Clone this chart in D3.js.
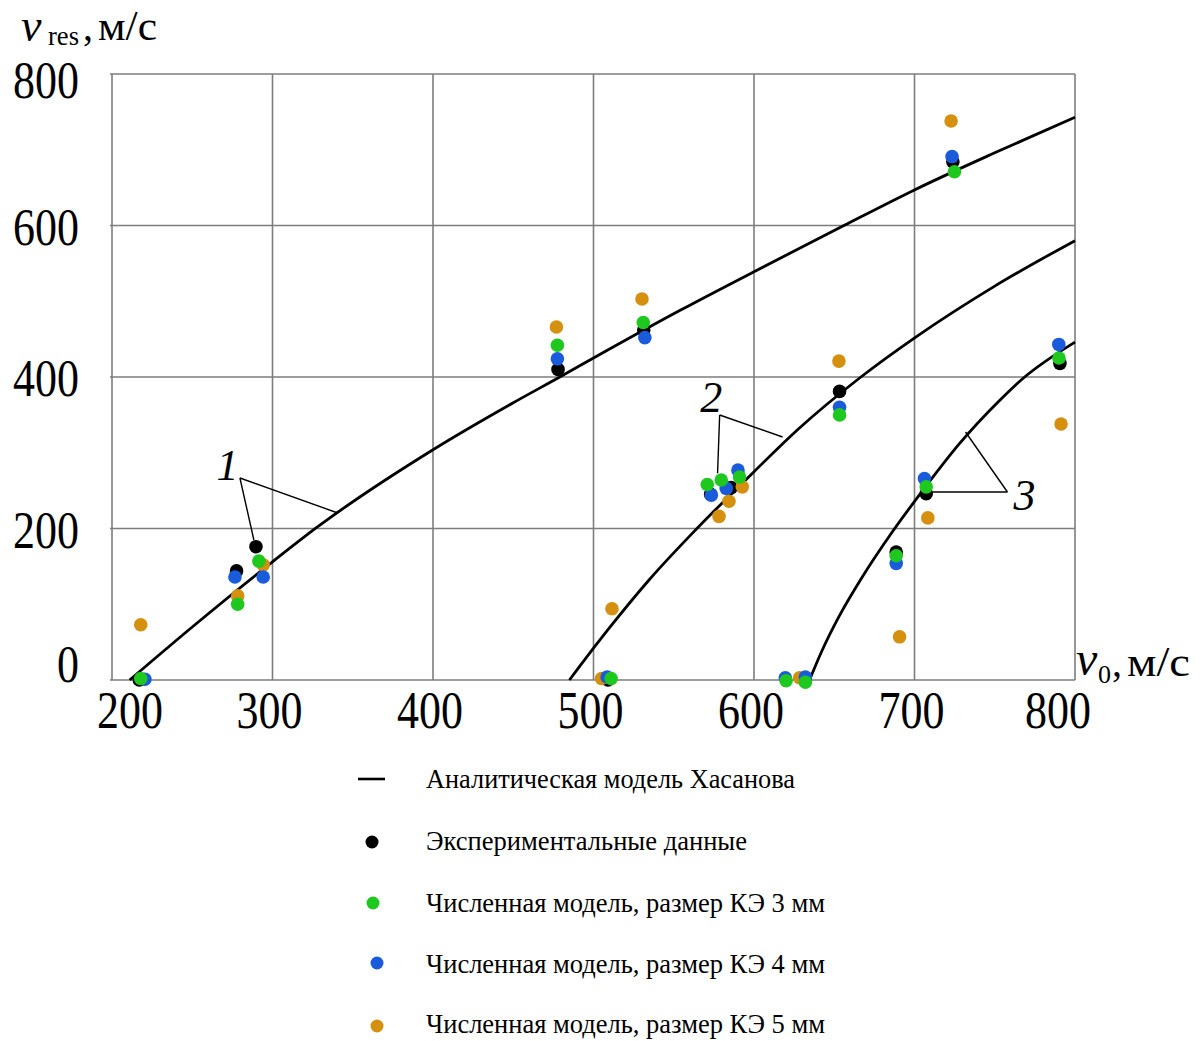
<!DOCTYPE html>
<html>
<head>
<meta charset="utf-8">
<script src="https://cdn.jsdelivr.net/npm/d3@7/dist/d3.min.js"></script>
<style>
  html, body { margin: 0; padding: 0; background: #fff; }
  svg { display: block; }
  text { font-family: "Liberation Serif", "Times New Roman", serif; fill: #000; }
</style>
</head>
<body>
<svg id="chart" width="1202" height="1041"></svg>
<script>
// ---------- data ----------
const xTicks = [200, 300, 400, 500, 600, 700, 800];
const yTicks = [0, 200, 400, 600, 800];

// analytical model curves: [v0, vres]
const curve1 = [[211,0],[250,70],[300,156],[328,202],[400,304],[450,366],[479,400],[500,425],[554,488],[600,539],[656,600],[700,647],[750,696],[800,743]];
const curve2 = [[485,0],[491,17],[510,69],[535,133],[564,199],[600,275],[628,332],[666,399],[701,453],[750,520],[800,580]];
const curve3 = [[634.6,0],[642,37],[653,84],[666,131],[686,195],[704,247],[728,312],[753,369],[767,397],[800,446]];

// experimental data: [v0, vres]
const expData = [[217,0],[277.6,144],[289.7,176],[477.9,410],[531.3,462],[509,0],[573,245],[585.8,254],[632,0],[653.3,381],[688.6,169],[707.3,246],[723.9,684],[790.6,418]];
// numerical model, element size 5 mm
const fe5 = [[217.9,73],[278.3,111],[294.2,152],[476.9,466],[530.2,503],[511.5,94],[505,2],[578.2,216],[584.4,236],[592.7,255],[628.4,3],[652.9,421],[690.7,57],[708.3,214],[722.8,738],[791.3,338]];
// numerical model, element size 4 mm
const fe4 = [[220.5,1],[276.6,136],[294.2,136],[477.5,424],[532,452],[508.5,4],[573.4,244],[582.7,253],[590,277],[619.5,3],[632,4],[653.3,360],[688.6,154],[706.2,266],[723.4,691],[789.9,443]];
// numerical model, element size 3 mm
const fe3 = [[217.9,2],[278.3,100],[291.5,157],[477.5,442],[531,472],[511,2],[570.9,258],[579.6,264],[591,268],[620,-1],[632,-3],[653.3,350],[688.6,164],[707.3,255],[724.9,671],[790,425]];

// curve labels and leader lines (data coordinates)
const curveLabels = [
  { text: "1", v0: 272, vres: 264 },
  { text: "2", v0: 573.3, vres: 354 },
  { text: "3", v0: 768.5, vres: 224 }
];
const leaders = [
  [[279.7,266.7],[288.4,184.8]],
  [[279.7,266.7],[340.7,220.5]],
  [[578.6,349.8],[577.3,273]],
  [[578.6,349.8],[617.8,320.8]],
  [[757.9,248.2],[707.5,248.2]],
  [[757.9,248.2],[731.8,327.4]]
];

const legendLabels = [
  "Аналитическая модель Хасанова",
  "Экспериментальные данные",
  "Численная модель, размер КЭ 3 мм",
  "Численная модель, размер КЭ 4 мм",
  "Численная модель, размер КЭ 5 мм"
];

// ---------- drawing ----------
const svg = d3.select("#chart");
svg.append("rect").attr("width", 1202).attr("height", 1041).attr("fill", "#fff");

const x = d3.scaleLinear().domain([200, 800]).range([112, 1075]);
const y = d3.scaleLinear().domain([0, 800]).range([680, 74]);

const gridColor = "#7d7d7d";
const g = svg.append("g");

// vertical gridlines
g.selectAll("line.vx").data(xTicks).join("line")
  .attr("x1", d => x(d)).attr("x2", d => x(d))
  .attr("y1", y(800)).attr("y2", y(0))
  .attr("stroke", gridColor).attr("stroke-width", 1.6);
// horizontal gridlines
g.selectAll("line.hy").data(yTicks).join("line")
  .attr("x1", x(200) - 2).attr("x2", x(800))
  .attr("y1", d => y(d)).attr("y2", d => y(d))
  .attr("stroke", gridColor).attr("stroke-width", 1.6);

// tick labels
g.selectAll("text.xt").data(xTicks).join("text")
  .attr("x", d => Math.min(Math.max(x(d) - 3, 130), 1058))
  .attr("y", 728)
  .attr("text-anchor", "middle")
  .attr("font-size", 52)
  .attr("textLength", d => String(d).length * 22)
  .attr("lengthAdjust", "spacingAndGlyphs")
  .text(d => d);

g.selectAll("text.yt").data(yTicks).join("text")
  .attr("x", 79)
  .attr("y", d => y(d) + (d === 0 ? 2 : d === 800 ? 24 : 19))
  .attr("text-anchor", "end")
  .attr("font-size", 52)
  .attr("textLength", d => String(d).length * 22)
  .attr("lengthAdjust", "spacingAndGlyphs")
  .text(d => d);

// axis titles
const yt = svg.append("g");
yt.append("text").attr("x", 21).attr("y", 41).attr("font-size", 46).attr("font-style", "italic").text("v");
yt.append("text").attr("x", 48).attr("y", 45).attr("font-size", 27).attr("textLength", 31).attr("lengthAdjust", "spacingAndGlyphs").text("res");
yt.append("text").attr("x", 83).attr("y", 40).attr("font-size", 40).text(",");
yt.append("text").attr("x", 98).attr("y", 40).attr("font-size", 42).attr("textLength", 59).attr("lengthAdjust", "spacingAndGlyphs").text("м/с");

const xt = svg.append("g");
xt.append("text").attr("x", 1076).attr("y", 675).attr("font-size", 48).attr("font-style", "italic").text("v");
xt.append("text").attr("x", 1098).attr("y", 683).attr("font-size", 26).text("0");
xt.append("text").attr("x", 1112).attr("y", 676).attr("font-size", 40).text(",");
xt.append("text").attr("x", 1127).attr("y", 676).attr("font-size", 42).attr("textLength", 63).attr("lengthAdjust", "spacingAndGlyphs").text("м/с");

// curves
const line = d3.line().x(d => x(d[0])).y(d => y(d[1])).curve(d3.curveMonotoneX);
[curve1, curve2, curve3].forEach(c => {
  svg.append("path").attr("d", line(c)).attr("fill", "none")
    .attr("stroke", "#000").attr("stroke-width", 2.8);
});

// leader lines
const lline = d3.line().x(d => x(d[0])).y(d => y(d[1]));
leaders.forEach(l => {
  svg.append("path").attr("d", lline(l)).attr("fill", "none")
    .attr("stroke", "#000").attr("stroke-width", 1.4);
});
svg.selectAll("text.cl").data(curveLabels).join("text")
  .attr("x", d => x(d.v0)).attr("y", d => y(d.vres))
  .attr("text-anchor", "middle")
  .attr("font-size", 44).attr("font-style", "italic")
  .text(d => d.text);

// points
const colors = { exp: "#000000", fe3: "#1fc81f", fe4: "#1a5bdc", fe5: "#d4900e" };
const R = 6.8;
const series = [
  { data: expData, color: colors.exp },
  { data: fe5, color: colors.fe5 },
  { data: fe4, color: colors.fe4 },
  { data: fe3, color: colors.fe3 }
];
series.forEach(s => {
  svg.append("g").selectAll("circle").data(s.data).join("circle")
    .attr("cx", d => x(d[0])).attr("cy", d => y(d[1]))
    .attr("r", R).attr("fill", s.color);
});

// legend
const leg = svg.append("g");
const baselines = [788, 850, 912, 973, 1033];
const legWidths = [369, 321, 399, 399, 399];
leg.selectAll("text").data(legendLabels).join("text")
  .attr("x", 426).attr("y", (d, i) => baselines[i])
  .attr("font-size", 27)
  .attr("textLength", (d, i) => legWidths[i])
  .attr("lengthAdjust", "spacingAndGlyphs")
  .text(d => d);
leg.append("line").attr("x1", 358).attr("x2", 385).attr("y1", 779).attr("y2", 779)
  .attr("stroke", "#000").attr("stroke-width", 2.6);
const legDots = [
  { cx: 372, cy: 842, color: colors.exp },
  { cx: 373, cy: 903, color: colors.fe3 },
  { cx: 377, cy: 963, color: colors.fe4 },
  { cx: 377, cy: 1026, color: colors.fe5 }
];
leg.selectAll("circle").data(legDots).join("circle")
  .attr("cx", d => d.cx).attr("cy", d => d.cy).attr("r", 6.5).attr("fill", d => d.color);
</script>
</body>
</html>
